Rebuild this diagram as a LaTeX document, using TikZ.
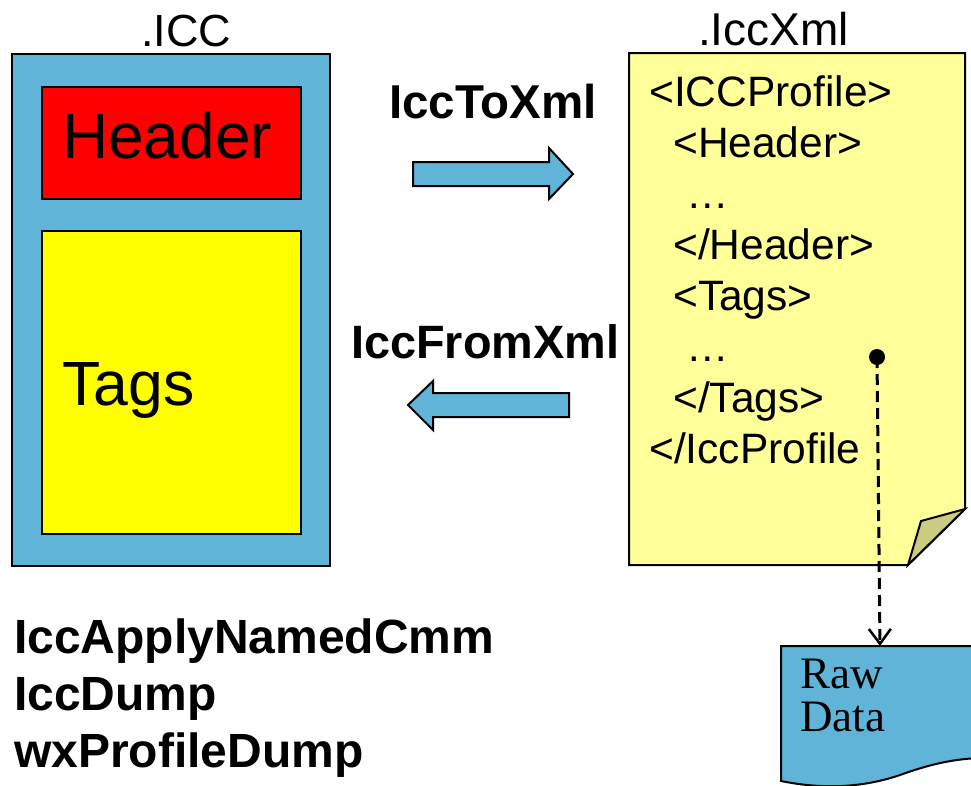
\documentclass[tikz,border=0pt]{standalone}
\usepackage{fontspec}
\setmainfont{Liberation Sans}
\newfontfamily\serifface{Liberation Serif}
\usetikzlibrary{arrows.meta}
\definecolor{iccblue}{RGB}{96,180,216}
\definecolor{tagyellow}{RGB}{255,255,0}
\definecolor{hdrred}{RGB}{255,0,0}
\definecolor{docyellow}{RGB}{255,255,153}
\definecolor{foldtan}{RGB}{204,204,128}
\newcommand{\fs}[1]{\fontsize{#1}{1.2\dimexpr#1pt\relax}\selectfont}
\begin{document}
\begin{tikzpicture}[x=1pt,y=-1pt,
  outline/.style={draw=black,line width=2pt},
  txt/.style={inner sep=0pt,anchor=base west},
  blockarrow/.style={outline,fill=iccblue,line join=miter},
  dashlink/.style={line width=3pt,dash pattern=on 11pt off 6pt,
    -{Straight Barb[length=15pt,width=22pt,line width=2.5pt]}}]
\useasboundingbox (0,0) rectangle (971,785);

% binary ICC profile: container with header and tag area
\node[outline,fill=iccblue,minimum width=318pt,minimum height=512pt,inner sep=0pt,anchor=north west] (icc) at (11,53) {};
\node[outline,fill=hdrred,minimum width=259pt,minimum height=112pt,inner sep=0pt,anchor=north west] (hdr) at (41,86) {};
\node[outline,fill=tagyellow,minimum width=259pt,minimum height=303pt,inner sep=0pt,anchor=north west] (tags) at (41,230) {};
\node[txt] (icclbl) at (141,46) {\fs{45}.ICC};
\node[txt] (hdrlbl) at (62,158) {\fs{64}Header};
\node[txt] (tagslbl) at (62,405) {\fs{62.5}Tags};

% XML document with folded corner
\path[outline,fill=docyellow,line join=miter] (629,53) -- (965,53) -- (965,509) -- (908,565) -- (629,565) -- cycle;
\path[outline,fill=foldtan,line join=miter] (965,509) -- (921,521) -- (908,565) -- cycle;
\node[txt] (xmllbl) at (698,45) {\fs{46}.IccXml};
\node[txt] (l1) at (649,106) {\fs{42.5}<ICCProfile>};
\node[txt] (l2) at (673,157) {\fs{42.5}<Header>};
\node[txt] (l3) at (686,208) {\fs{42.5}\dots};
\node[txt] (l4) at (673,259) {\fs{42.5}</Header>};
\node[txt] (l5) at (673,310) {\fs{42.5}<Tags>};
\node[txt] (l6) at (686,361) {\fs{42.5}\dots};
\node[txt] (l7) at (673,412) {\fs{42.5}</Tags>};
\node[txt] (l8) at (649,463) {\fs{42.5}</IccProfile};

% conversion tools
\node[txt] (toxml) at (389,118) {\fs{47.5}\bfseries IccToXml};
\path[blockarrow] (413,162) -- (549,162) -- (549,148) -- (573,174) -- (549,199) -- (549,186) -- (413,186) -- cycle;
\node[txt] (fromxml) at (351,358) {\fs{46.8}\bfseries IccFromXml};
\path[blockarrow] (569,393) -- (433,393) -- (433,381) -- (408,405) -- (433,430) -- (433,417) -- (569,417) -- cycle;

% other tools
\node[txt] (t1) at (14,653) {\fs{48}\bfseries IccApplyNamedCmm};
\node[txt] (t2) at (14,710) {\fs{48}\bfseries IccDump};
\node[txt] (t3) at (14,767) {\fs{48}\bfseries wxProfileDump};

% raw data document
\path[outline,fill=iccblue] (781,646) -- (980,646) -- (980,758)
  .. controls (950,759) and (925,766) .. (900,775)
  .. controls (865,787) and (825,790) .. (781,781) -- cycle;
\coordinate (rawtop) at (880,646);
\node[txt] (rawlbl) at (800,688) {\serifface\fs{45}Raw};
\node[txt] (rawlbl2) at (800,731) {\serifface\fs{45}Data};

% link from tag data to raw data
\node[circle,fill=black,inner sep=0pt,minimum size=16pt] (dot) at (877,357) {};
\draw[dashlink] (dot.center) -- (rawtop);
\end{tikzpicture}
\end{document}
